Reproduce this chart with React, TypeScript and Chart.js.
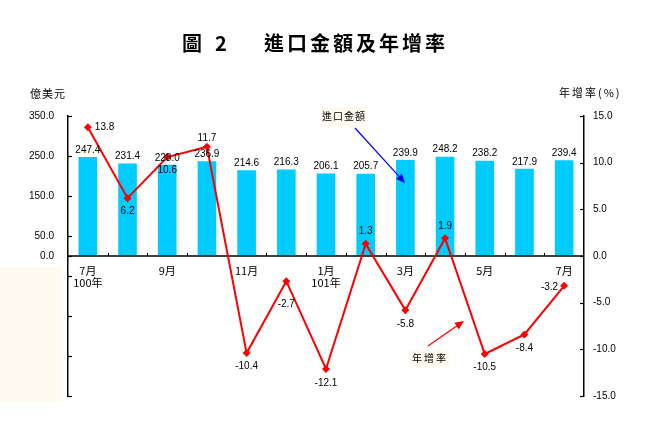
import React, { useEffect, useRef } from 'react';
import { Chart, registerables } from 'chart.js';
Chart.register(...registerables);

const categories = ['7月', '8月', '9月', '10月', '11月', '12月', '1月', '2月', '3月', '4月', '5月', '6月', '7月'];
const xTickLabels = ['7月', '', '9月', '', '11月', '', '1月', '', '3月', '', '5月', '', '7月'];
const yearLabels = ['100年', '', '', '', '', '', '101年', '', '', '', '', '', ''];
const importValues = [247.4, 231.4, 228.0, 236.9, 214.6, 216.3, 206.1, 205.7, 239.9, 248.2, 238.2, 217.9, 239.4];
const growthRates = [13.8, 6.2, 10.6, 11.7, -10.4, -2.7, -12.1, 1.3, -5.8, 1.9, -10.5, -8.4, -3.2];
const leftTicks = [-350, -250, -150, -50, 0, 50, 150, 250, 350];
const rightTicks = [-15, -10, -5, 0, 5, 10, 15];

// label placement for growth-rate values: [dx, dy, align]
const rateLabelPlacement: [number, number, CanvasTextAlign][] = [
  [7, 0, 'left'], [0, 13, 'center'], [0, 13, 'center'], [0, -9, 'center'], [0, 13, 'center'],
  [0, 23, 'center'], [0, 14, 'center'], [0, -13, 'center'], [0, 14, 'center'], [0, -12, 'center'],
  [0, 13, 'center'], [0, 14, 'center'], [-6, 1, 'right'],
];

const NUM_FONT = '10px "Liberation Sans", Arial, sans-serif';
const CJK_FONT = '"Noto Sans CJK TC", "Noto Sans CJK SC", sans-serif';

function arrow(ctx: CanvasRenderingContext2D, x1: number, y1: number, x2: number, y2: number, color: string) {
  const ang = Math.atan2(y2 - y1, x2 - x1);
  const hl = 9, hw = 4;
  ctx.save();
  ctx.strokeStyle = color;
  ctx.fillStyle = color;
  ctx.lineWidth = 1.2;
  ctx.beginPath();
  ctx.moveTo(x1, y1);
  ctx.lineTo(x2 - Math.cos(ang) * hl * 0.8, y2 - Math.sin(ang) * hl * 0.8);
  ctx.stroke();
  ctx.beginPath();
  ctx.moveTo(x2, y2);
  ctx.lineTo(x2 - Math.cos(ang) * hl + Math.sin(ang) * hw, y2 - Math.sin(ang) * hl - Math.cos(ang) * hw);
  ctx.lineTo(x2 - Math.cos(ang) * hl - Math.sin(ang) * hw, y2 - Math.sin(ang) * hl + Math.cos(ang) * hw);
  ctx.closePath();
  ctx.fill();
  ctx.restore();
}

const decorPlugin = {
  id: 'decor',
  beforeDraw(chart: any) {
    const ctx = chart.ctx as CanvasRenderingContext2D;
    ctx.save();
    ctx.fillStyle = '#ffffff';
    ctx.fillRect(0, 0, chart.width, chart.height);
    ctx.fillStyle = '#fffaf0';
    ctx.fillRect(0, 267, 62, 135);
    ctx.restore();
  },
  afterDatasetDraw(chart: any, args: any) {
    if (args.index !== 0) return;
    const ctx = chart.ctx as CanvasRenderingContext2D;
    const { left, right } = chart.chartArea;
    const x = chart.scales.x;
    const yL = chart.scales.yL;
    const yR = chart.scales.yR;
    const y0 = yL.getPixelForValue(0);
    ctx.save();
    ctx.strokeStyle = '#000';
    ctx.lineWidth = 1.5;
    ctx.beginPath();
    ctx.moveTo(left, y0);
    ctx.lineTo(right, y0);
    ctx.stroke();
    ctx.lineWidth = 1;
    // x ticks at category boundaries (pointing up)
    for (let i = 1; i < categories.length; i++) {
      const bx = Math.round((x.getPixelForValue(i - 1) + x.getPixelForValue(i)) / 2) + 0.5;
      ctx.beginPath();
      ctx.moveTo(bx, y0);
      ctx.lineTo(bx, y0 - 3);
      ctx.stroke();
    }
    // y ticks inward
    ctx.lineWidth = 1.2;
    leftTicks.forEach((v) => {
      const ty = Math.round(yL.getPixelForValue(v)) + 0.5;
      ctx.beginPath();
      ctx.moveTo(left, ty);
      ctx.lineTo(left + 4, ty);
      ctx.stroke();
    });
    rightTicks.forEach((v) => {
      const ty = Math.round(yR.getPixelForValue(v)) + 0.5;
      ctx.beginPath();
      ctx.moveTo(right, ty);
      ctx.lineTo(right - 4, ty);
      ctx.stroke();
    });
    // x labels
    ctx.fillStyle = '#000';
    ctx.textAlign = 'center';
    ctx.textBaseline = 'middle';
    ctx.font = '11px ' + CJK_FONT;
    xTickLabels.forEach((t, i) => {
      if (!t) return;
      ctx.fillText(t, x.getPixelForValue(i), y0 + 15);
    });
    yearLabels.forEach((t, i) => {
      if (!t) return;
      ctx.fillText(t, x.getPixelForValue(i), y0 + 27);
    });
    ctx.restore();
  },
  afterDraw(chart: any) {
    const ctx = chart.ctx as CanvasRenderingContext2D;
    const x = chart.scales.x;
    const yL = chart.scales.yL;
    const yR = chart.scales.yR;
    ctx.save();
    ctx.fillStyle = '#000';
    ctx.textBaseline = 'middle';
    ctx.font = NUM_FONT;
    // bar value labels
    ctx.textAlign = 'center';
    importValues.forEach((v, i) => {
      ctx.fillText(v.toFixed(1), x.getPixelForValue(i), yL.getPixelForValue(v) - 7);
    });
    // rate value labels
    growthRates.forEach((v, i) => {
      const [dx, dy, al] = rateLabelPlacement[i];
      ctx.textAlign = al;
      ctx.fillText(v.toFixed(1), x.getPixelForValue(i) + dx, yR.getPixelForValue(v) + dy);
    });

    // title
    ctx.font = 'bold 20px ' + CJK_FONT;
    ctx.textAlign = 'left';
    ctx.fillText('圖', 182, 43);
    ctx.fillText('2', 215, 43);
    (ctx as any).letterSpacing = '3px';
    ctx.fillText('進口金額及年增率', 264, 43);
    (ctx as any).letterSpacing = '0px';

    // axis titles
    ctx.font = '11px ' + CJK_FONT;
    (ctx as any).letterSpacing = '1px';
    ctx.fillText('億美元', 30, 94);
    (ctx as any).letterSpacing = '2px';
    ctx.fillText('年增率(%)', 559, 93);
    (ctx as any).letterSpacing = '0px';

    // annotation: 進口金額
    ctx.fillStyle = '#fffaf0';
    ctx.fillRect(322, 107, 44, 20);
    ctx.fillStyle = '#000';
    ctx.font = '10px ' + CJK_FONT;
    ctx.textAlign = 'center';
    (ctx as any).letterSpacing = '1px';
    ctx.fillText('進口金額', 344, 116);
    arrow(ctx, 355, 128, 405, 183, '#0000ff');

    // annotation: 年增率
    ctx.fillStyle = '#fffaf0';
    ctx.fillRect(409, 350, 41, 17);
    ctx.fillStyle = '#000';
    (ctx as any).letterSpacing = '2px';
    ctx.fillText('年增率', 430, 358);
    (ctx as any).letterSpacing = '0px';
    arrow(ctx, 428, 346, 464, 321, '#ff0000');
    ctx.restore();
  },
};

export default function App() {
  const ref = useRef<HTMLCanvasElement>(null);
  useEffect(() => {
    document.body.style.margin = '0';
    const chart = new Chart(ref.current!, {
      type: 'bar',
      data: {
        labels: categories,
        datasets: [
          {
            type: 'bar',
            label: '進口金額',
            data: importValues,
            backgroundColor: '#00ccff',
            yAxisID: 'yL',
            barPercentage: 0.94,
            categoryPercentage: 0.5,
            order: 2,
          },
          {
            type: 'line',
            label: '年增率',
            data: growthRates,
            borderColor: '#ff0000',
            backgroundColor: '#ff0000',
            borderWidth: 2,
            pointStyle: 'rectRot',
            pointRadius: 4,
            pointBorderWidth: 0,
            yAxisID: 'yR',
            tension: 0,
            order: 1,
          },
        ],
      },
      options: {
        responsive: false,
        animation: false,
        devicePixelRatio: 1,
        layout: { padding: { left: 0, right: 0, top: 116, bottom: 39 } },
        plugins: { legend: { display: false }, tooltip: { enabled: false }, title: { display: false } },
        scales: {
          x: { type: 'category', display: false, offset: true },
          yL: {
            type: 'linear',
            position: 'left',
            min: -350,
            max: 350,
            afterBuildTicks: (s: any) => { s.ticks = leftTicks.map((v) => ({ value: v })); },
            afterFit: (s: any) => { s.width = 68; },
            grid: { drawOnChartArea: false, drawTicks: false },
            border: { color: '#000', width: 1.5 },
            ticks: {
              autoSkip: false,
              padding: 14,
              color: '#000',
              font: { family: '"Liberation Sans", Arial, sans-serif', size: 10 },
              callback: (v: any) => (v >= 0 ? Number(v).toFixed(1) : ''),
            },
          },
          yR: {
            type: 'linear',
            position: 'right',
            min: -15,
            max: 15,
            afterBuildTicks: (s: any) => { s.ticks = rightTicks.map((v) => ({ value: v })); },
            afterFit: (s: any) => { s.width = 76; },
            grid: { drawOnChartArea: false, drawTicks: false },
            border: { color: '#000', width: 1.5 },
            ticks: {
              autoSkip: false,
              padding: 9,
              color: '#000',
              font: { family: '"Liberation Sans", Arial, sans-serif', size: 10 },
              callback: (v: any) => Number(v).toFixed(1),
            },
          },
        },
      },
      plugins: [decorPlugin],
    });
    return () => chart.destroy();
  }, []);
  return (
    <div style={{ position: 'absolute', left: 0, top: 0, width: 660, height: 435, background: '#fff' }}>
      <canvas ref={ref} width={660} height={435} style={{ width: 660, height: 435, display: 'block' }} />
    </div>
  );
}
